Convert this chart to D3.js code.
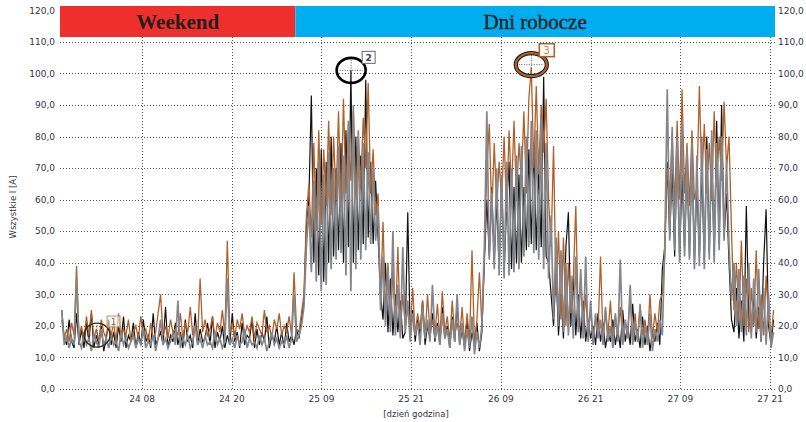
<!DOCTYPE html>
<html>
<head>
<meta charset="utf-8">
<script src="https://cdn.jsdelivr.net/npm/d3@7"></script>
<style>
  html, body { margin: 0; padding: 0; background: #fff; }
  svg { display: block; }
</style>
</head>
<body>
<svg id="chart" width="806" height="422"></svg>
<script>
// Current readings of three phases, sampled every 20 minutes from 23 22:00 to 27 22:00.
const sampleStart = "23 22:00";
const sampleStepMinutes = 20;

const phaseGray = [
  25,14,17,13,16,14,35,15,13,18,
  14,16,12,17,15,13,19,14,16,13,
  17,14,15,12,18,14,16,13,15,17,
  13,16,14,19,13,15,14,17,12,16,
  22,14,16,13,15,18,14,28,13,16,
  14,17,13,15,20,14,16,13,17,14,
  15,13,18,14,16,13,15,35,14,16,
  13,17,14,15,19,13,16,14,15,13,
  17,14,16,12,15,18,14,16,13,15,
  14,17,13,16,30,15,17,20,26,45,
  58,37,66,34,72,31,68,33,75,38,
  70,41,77,43,74,36,85,31,90,38,
  82,41,78,44,75,46,70,47,58,25,
  42,20,38,18,50,17,33,16,45,18,
  28,15,24,17,21,14,26,16,22,15,
  33,16,20,14,24,16,19,13,22,15,
  30,14,21,12,19,13,23,11,18,13,
  20,45,88,41,62,38,70,36,68,35,
  72,36,70,37,74,38,77,42,80,45,
  85,43,82,41,86,38,78,35,55,22,
  48,20,44,18,40,17,36,16,42,18,
  38,16,42,15,28,14,24,16,22,14,
  26,15,20,13,24,15,41,14,22,16,
  33,14,21,15,26,13,20,14,24,12,
  19,15,22,17,45,95,47,83,44,80,
  40,84,42,76,41,78,38,74,39,80,
  38,76,41,82,40,78,44,80,47,72,
  45,28,40,20,38,18,36,17,40,16,
  35,18,38,15,32,14,30,13,18
];

const phaseBlack = [
  25,16,14,22,15,13,24,14,19,13,
  21,15,24,13,17,14,20,12,16,22,
  14,18,13,20,15,23,13,17,15,21,
  13,18,14,22,15,17,13,24,14,16,
  18,14,26,13,17,15,21,14,18,13,
  22,15,17,13,24,14,19,15,16,21,
  14,23,13,18,15,20,13,17,14,24,
  15,18,13,21,14,17,16,22,13,19,
  14,18,15,23,13,17,15,20,14,18,
  13,21,15,17,14,19,16,22,28,52,
  60,93,40,70,36,76,34,72,40,80,
  42,70,44,78,40,82,45,101,40,80,
  44,74,46,98,48,72,46,66,48,30,
  22,40,18,35,17,30,18,28,16,18,
  56,17,25,15,22,17,28,14,20,16,
  24,15,21,14,26,16,20,13,23,15,
  27,14,19,13,22,12,18,14,21,12,
  18,40,60,42,64,40,60,38,67,37,
  58,72,38,64,40,68,40,64,44,76,
  46,78,44,70,45,99,42,40,30,20,
  38,17,30,16,45,56,20,36,17,30,
  16,28,15,22,16,20,14,24,15,21,
  13,18,15,22,14,19,13,25,15,20,
  14,27,15,19,13,23,14,20,12,18,
  15,21,14,38,45,72,48,70,42,78,
  42,68,44,72,42,75,40,66,42,70,
  40,80,43,74,42,85,46,90,48,62,
  40,22,18,32,16,28,15,58,22,18,
  30,16,26,15,40,57,20,14,22
];

const phaseBrown = [
  22,16,19,15,21,17,39,16,20,15,
  23,17,25,16,19,15,22,18,16,20,
  17,21,15,24,16,19,17,22,15,18,
  20,16,23,17,19,15,21,16,18,24,
  30,17,20,16,22,18,19,17,24,16,
  21,18,26,17,20,16,35,18,22,17,
  19,23,16,21,18,25,17,47,18,21,
  16,22,19,24,17,20,18,23,16,21,
  19,17,25,18,20,16,22,19,24,17,
  20,18,23,17,37,19,18,24,30,55,
  65,48,78,50,82,52,76,58,85,55,
  80,60,88,56,92,62,84,66,88,60,
  80,64,86,70,97,62,76,55,62,28,
  53,24,40,20,38,19,45,18,30,20,
  26,18,32,17,24,19,28,16,30,18,
  22,17,27,16,31,18,23,15,28,17,
  21,16,26,14,24,15,44,14,22,37,
  20,42,70,84,55,78,58,72,60,80,
  56,82,62,85,60,78,66,88,62,92,
  102,70,96,68,90,75,92,60,45,77,
  30,50,22,48,20,40,24,35,58,22,
  36,18,30,17,25,16,22,18,42,16,
  25,17,28,15,23,17,26,15,21,18,
  29,16,24,15,27,17,22,15,30,16,
  24,18,28,30,42,70,62,80,58,85,
  60,95,62,78,58,82,60,64,96,66,
  84,62,78,60,88,64,80,66,91,70,
  80,50,25,40,22,47,20,35,18,32,
  20,44,19,30,17,36,22,16,25
];

// Axis ticks
const xDomain = ["23 21:46", "27 22:12"];
const xTickTimes = ["24 08:50", "24 20:56", "25 09:02", "25 21:08", "26 09:14", "26 21:20", "27 09:26", "27 21:32"];
const xTickLabels = ["24 08", "24 20", "25 09", "25 21", "26 09", "26 21", "27 09", "27 21"];
const yTicks = [0, 10, 20, 30, 40, 50, 60, 70, 80, 90, 100, 110, 120];
const yGrid = [0, 10, 20, 30, 40, 50, 60, 70, 80, 90, 100, 110];

// Day-type bands along the top
const bandLabels = ["Weekend", "Dni robocze"];
const bandStarts = ["23 21:46", "25 05:30"];
const bandEnds = ["25 05:30", "27 22:12"];

// Cursor markers
const markerIds = ["1", "2", "3"];
const markerTimes = ["24 02:46", "25 13:02", "26 13:20"];
const markerValues = [17.1, 101, 102.8];

// ---------------------------------------------------------------
const parseT = s => {
  const [d, hm] = s.split(" ");
  const [h, m] = hm.split(":").map(Number);
  return new Date(2014, 0, +d, h, m);
};

const svg = d3.select("#chart");
const plotLeft = 60, plotRight = 775, plotTop = 10.4, plotBottom = 389;

const x = d3.scaleTime().domain(xDomain.map(parseT)).range([plotLeft, plotRight]);
const y = d3.scaleLinear().domain([0, 120]).range([plotBottom, plotTop]);

const locale = d3.formatLocale({ decimal: ",", thousands: " ", grouping: [3], currency: ["", ""] });
const fmt = locale.format(".1f");

const t0 = parseT(sampleStart);
const timeAt = i => new Date(t0.getTime() + i * sampleStepMinutes * 60000);

const textColor = "#353545";
const tickFont = "DejaVu Sans, Verdana, sans-serif";

// Grid
const grid = svg.append("g");
grid.selectAll("line.h").data(yGrid).join("line")
  .attr("x1", plotLeft).attr("x2", plotRight)
  .attr("y1", d => Math.round(y(d)) + 0.5).attr("y2", d => Math.round(y(d)) + 0.5)
  .attr("stroke", "#555").attr("stroke-width", 1).attr("stroke-dasharray", "1,2");
grid.selectAll("line.v").data(xTickTimes).join("line")
  .attr("x1", d => Math.round(x(parseT(d))) + 0.5).attr("x2", d => Math.round(x(parseT(d))) + 0.5)
  .attr("y1", 37).attr("y2", plotBottom)
  .attr("stroke", "#555").attr("stroke-width", 1).attr("stroke-dasharray", "1,2");

// Series: black, brown, then gray on top
const line = d3.line().x((d, i) => x(timeAt(i))).y(d => y(d));
const series = [
  { values: phaseBlack, color: "#111111", w: 1.2 },
  { values: phaseBrown, color: "#b0612b", w: 1.3 },
  { values: phaseGray, color: "#85868b", w: 1.7 }
];
svg.append("g").selectAll("path").data(series).join("path")
  .attr("d", d => line(d.values))
  .attr("fill", "none")
  .attr("stroke", d => d.color)
  .attr("stroke-width", d => d.w)
  .attr("stroke-linejoin", "miter");

// Top bands
const bandColors = ["#ee2f2b", "#00aeef"];
const bands = svg.append("g");
bandLabels.forEach((lab, i) => {
  const x0 = x(parseT(bandStarts[i])), x1 = x(parseT(bandEnds[i]));
  bands.append("rect").attr("x", x0).attr("y", 6).attr("width", x1 - x0).attr("height", 31)
    .attr("fill", bandColors[i]);
  bands.append("text").attr("x", (x0 + x1) / 2).attr("y", 28.5)
    .attr("text-anchor", "middle")
    .attr("font-family", "Liberation Serif, Times New Roman, serif")
    .attr("font-size", i === 0 ? 21 : 21)
    .attr("font-weight", i === 0 ? "bold" : "normal")
    .attr("stroke", i === 0 ? "none" : "#231f20")
    .attr("stroke-width", 0.35)
    .attr("fill", "#231f20")
    .text(lab);
});

// Y tick labels on both sides
const yl = svg.append("g").attr("font-family", tickFont).attr("font-size", 9).attr("fill", textColor);
yl.selectAll("text.l").data(yTicks).join("text")
  .attr("x", 55).attr("y", d => y(d) + 3.2).attr("text-anchor", "end").text(d => fmt(d));
yl.selectAll("text.r").data(yTicks).join("text")
  .attr("x", 778).attr("y", d => y(d) + 3.2).attr("text-anchor", "start").text(d => fmt(d));

// X tick labels
svg.append("g").attr("font-family", tickFont).attr("font-size", 9).attr("fill", textColor)
  .selectAll("text").data(xTickTimes).join("text")
  .attr("x", d => x(parseT(d))).attr("y", 402).attr("text-anchor", "middle")
  .text((d, i) => xTickLabels[i]);

// Axis titles
svg.append("text").attr("x", 416).attr("y", 417).attr("text-anchor", "middle")
  .attr("font-family", tickFont).attr("font-size", 8.5).attr("fill", textColor)
  .text("[dzień godzina]");
svg.append("text").attr("transform", "translate(16,207) rotate(-90)").attr("text-anchor", "middle")
  .attr("font-family", tickFont).attr("font-size", 8.5).attr("fill", textColor)
  .text("Wszystkie I [A]");

// Cursor markers
const markerStyle = [
  { rx: 13, ry: 12, ring: [{ c: "#3b2615", w: 1.3 }], box: "#c08a5a", txt: "#c0504d", dx: 10, dy: -19, bw: 13, bh: 11 },
  { rx: 14.5, ry: 12.5, ring: [{ c: "#000", w: 2.6 }], box: "#666", txt: "#3a3f5a", dx: 11, dy: -19, bw: 13, bh: 12 },
  { rx: 15.5, ry: 11.5, ring: [{ c: "#1a1a1a", w: 4.2 }, { c: "#b0612b", w: 2.2 }], box: "#b0612b", txt: "#d9823f", dx: 8, dy: -21, bw: 15, bh: 13 }
];
const mk = svg.append("g");
markerIds.forEach((id, i) => {
  const cx = x(parseT(markerTimes[i])), cy = y(markerValues[i]);
  const s = markerStyle[i];
  const g = mk.append("g");
  g.append("line").attr("x1", cx - s.rx + 3).attr("x2", cx + s.rx - 3).attr("y1", cy).attr("y2", cy)
    .attr("stroke", "#555").attr("stroke-dasharray", "1,1.5");
  g.append("line").attr("x1", cx).attr("x2", cx).attr("y1", cy - s.ry + 2).attr("y2", cy + s.ry - 2)
    .attr("stroke", "#555").attr("stroke-dasharray", "1,1.5");
  s.ring.forEach(r => {
    g.append("ellipse").attr("cx", cx).attr("cy", cy).attr("rx", s.rx).attr("ry", s.ry)
      .attr("fill", "none").attr("stroke", r.c).attr("stroke-width", r.w);
  });
  g.append("rect").attr("x", cx + s.dx).attr("y", cy + s.dy).attr("width", s.bw).attr("height", s.bh)
    .attr("fill", "#fff").attr("fill-opacity", i === 0 ? 0.6 : 1)
    .attr("stroke", s.box).attr("stroke-width", i === 2 ? 1.6 : 1);
  g.append("text").attr("x", cx + s.dx + s.bw / 2).attr("y", cy + s.dy + s.bh / 2 + 3.5)
    .attr("text-anchor", "middle").attr("font-family", tickFont)
    .attr("font-size", i === 2 ? 10 : 9).attr("font-weight", i === 1 ? "bold" : "normal")
    .attr("fill", s.txt).text(id);
});
</script>
</body>
</html>
